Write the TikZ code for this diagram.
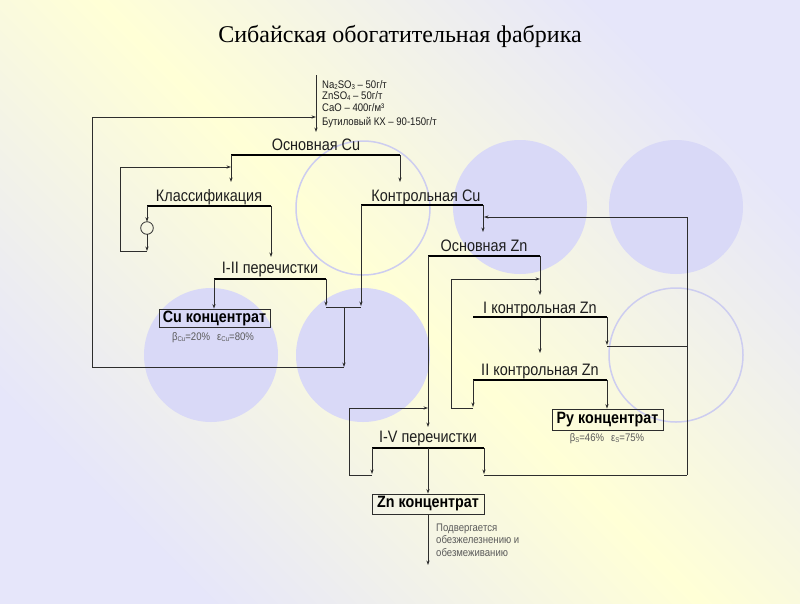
\documentclass[tikz,border=0pt]{standalone}
\usepackage{fontspec}
\setmainfont{Liberation Sans}
\newfontfamily\titlefont{Liberation Serif}
\newfontfamily\narrowfont[FakeStretch=0.87]{Liberation Sans}
\usetikzlibrary{arrows.meta}
\definecolor{yel}{RGB}{255,255,214}
\definecolor{lav}{RGB}{230,230,250}
\definecolor{circf}{RGB}{217,217,247}
\definecolor{circd}{RGB}{205,205,240}
\definecolor{linec}{RGB}{45,45,45}
\definecolor{labc}{RGB}{30,30,30}
\definecolor{subc}{RGB}{90,90,90}
\newcommand{\sbs}[1]{\raisebox{-1.8pt}{\fontsize{7}{8}\selectfont #1}}
\begin{document}
\begin{tikzpicture}[x=1pt,y=-1pt,
  flow/.style={draw=linec, line width=0.8pt},
  arr/.style={flow, -{Stealth[length=4.5pt,width=3.2pt]}},
  bar/.style={draw=black, line width=2.2pt},
  lbl/.style={anchor=base, inner sep=0pt, text=labc, font=\narrowfont\fontsize{16.6}{18}\selectfont},
  conc/.style={draw=linec, line width=0.9pt, inner sep=0pt, text=black, font=\narrowfont\bfseries\fontsize{16.4}{18}\selectfont},
  note/.style={anchor=base west, inner sep=0pt, text=subc, font=\narrowfont\fontsize{11}{12}\selectfont},
  subl/.style={anchor=base, inner sep=0pt, text=subc, font=\narrowfont\fontsize{11}{12}\selectfont},
  fcirc/.style={fill=circf, draw=none},
  ocirc/.style={draw=circd, line width=1.5pt, fill=none}
]
\useasboundingbox (0,0) rectangle (800,603);
\shade[top color=lav, bottom color=lav, middle color=yel, shading angle=-45] (0,0) rectangle (800,603);

% decorative circles
\fill[fcirc] (520,207) circle (67);
\fill[fcirc] (676,207) circle (67);
\fill[fcirc] (211,355) circle (67);
\fill[fcirc] (363,355) circle (67);
\draw[ocirc] (363,208) circle (67);
\draw[ocirc] (676,355) circle (67);

% title
\node[anchor=base, inner sep=0pt, font=\titlefont\fontsize{24}{27}\selectfont] (title) at (400,42) {Сибайская обогатительная фабрика};

% reagents
\node[note, text=labc] (r1) at (322,88) {Na\sbs{2}SO\sbs{3} – 50г/т};
\node[note, text=labc] (r2) at (322,99) {ZnSO\sbs{4} – 50г/т};
\node[note, text=labc] (r3) at (322,111) {CaO – 400г/м³};
\node[note, text=labc] (r4) at (322,125) {Бутиловый КХ – 90-150г/т};

% operation labels
\node[lbl] (ocu) at (316,150) {Основная Cu};
\node[lbl] (klass) at (209,201) {Классификация};
\node[lbl] (kcu) at (426,201) {Контрольная Cu};
\node[lbl] (ozn) at (484,251) {Основная Zn};
\node[lbl] (per12) at (270,273) {I-II перечистки};
\node[lbl] (k1zn) at (540,313) {I контрольная Zn};
\node[lbl] (k2zn) at (540,375) {II контрольная Zn};
\node[lbl] (per15) at (428,442) {I-V перечистки};

% concentrate boxes
\node[conc, minimum width=111pt, minimum height=18pt] (cucon) at (214.5,318) {Cu концентрат};
\node[conc, minimum width=111pt, minimum height=21pt] (pycon) at (607.5,419.5) {Ру концентрат};
\node[conc, minimum width=112pt, minimum height=20pt] (zncon) at (428,504) {Zn концентрат};
\node[subl] (cusub) at (213,340) {β\sbs{Cu}=20\%\hspace{7pt}ε\sbs{Cu}=80\%};
\node[subl] (pysub) at (607,441) {β\sbs{S}=46\%\hspace{7pt}ε\sbs{S}=75\%};
\node[note] (n1) at (436,531) {Подвергается};
\node[note] (n2) at (436,543.5) {обезжелезнению и};
\node[note] (n3) at (436,556) {обезмеживанию};

% coordinates
\coordinate (feedtop) at (316,75);
\coordinate (feedin) at (316,132);
\coordinate (ocuL) at (231,155); \coordinate (ocuR) at (400,155);
\coordinate (klL) at (147,206); \coordinate (klR) at (271,206);
\coordinate (kcuL) at (361,205); \coordinate (kcuR) at (483,205);
\coordinate (oznL) at (428,256); \coordinate (oznR) at (540,256);
\coordinate (p12L) at (214,279); \coordinate (p12R) at (326,279);
\coordinate (k1L) at (473,317); \coordinate (k1M) at (540,317); \coordinate (k1R) at (607,317);
\coordinate (k2L) at (473,380); \coordinate (k2R) at (607,380);
\coordinate (p15L) at (372,448); \coordinate (p15M) at (428,448); \coordinate (p15R) at (484,448);
\coordinate (pump) at (147,228);

% bars
\draw[bar] (ocuL) -- (ocuR);
\draw[bar] (klL) -- (klR);
\draw[bar] (kcuL) -- (kcuR);
\draw[bar] (oznL) -- (oznR);
\draw[bar] (p12L) -- (p12R);
\draw[bar] (k1L) -- (k1R);
\draw[bar] (k2L) -- (k2R);
\draw[bar] (p15L) -- (p15R);

% feed
\draw[arr] (feedtop) -- (feedin);

% main Cu
\draw[arr] (ocuL) -- (231,182);
\draw[arr] (ocuR) -- (400,182);

% classification loop
\draw[flow] (pump) circle (6.3);
\draw[arr] (klL) -- (147,221.7);
\draw[arr] (147,234.3) -- (147,251);
\draw[arr] (147,251) -- (120,251) -- (120,167) -- (231,167);
\draw[arr] (klR) -- (271,257);

% I-II cleanings
\draw[arr] (p12L) -- (cucon.north -| p12L);
\draw[arr] (p12R) -- (326,306);
\draw[arr] (kcuL) -- (361,306);
\draw[flow] (326,307) -- (361,307);
\draw[arr] (344,307) -- (344,367);
\draw[arr] (344,367) -- (92,367) -- (92,117) -- (316,117);

% control Cu -> main Zn
\draw[arr] (kcuR) -- (483,232);
\draw[arr] (687,475) -- (687,217) -- (484,217);

% main Zn
\draw[arr] (oznL) -- (428,427);
\draw[arr] (oznR) -- (540,295);

% I control Zn
\draw[arr] (k1M) -- (540,353);
\draw[arr] (k1R) -- (607,345);
\draw[flow] (607,346) -- (687,346);

% II control Zn
\draw[arr] (k2L) -- (473,407);
\draw[arr] (473,408) -- (451,408) -- (451,279) -- (540,279);
\draw[arr] (k2R) -- (pycon.north -| k2R);

% I-V cleanings
\draw[arr] (p15L) -- (372,474);
\draw[arr] (372,475) -- (349,475) -- (349,408) -- (428,408);
\draw[arr] (p15M) -- (zncon.north);
\draw[arr] (p15R) -- (484,474);
\draw[flow] (484,475) -- (687,475);

% Zn concentrate out
\draw[arr] (zncon.south) -- (428,565);
\end{tikzpicture}
\end{document}
